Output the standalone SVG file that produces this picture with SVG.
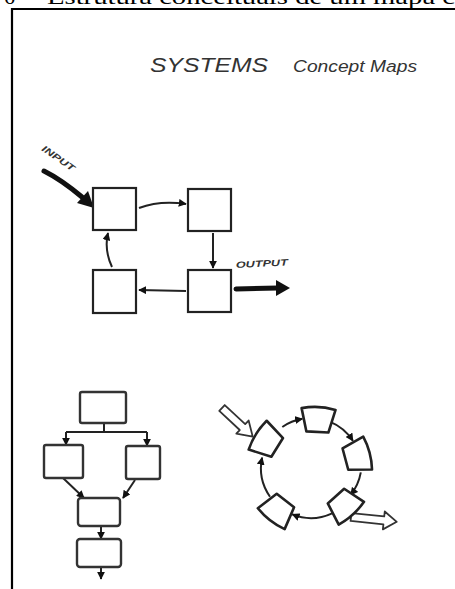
<svg xmlns="http://www.w3.org/2000/svg" width="455" height="589" viewBox="0 0 455 589">
<style>
.box{fill:#fff;stroke:#222;stroke-width:2.2}
.fbox{fill:#fff;stroke:#333;stroke-width:2.4}
.ln{fill:none;stroke:#222;stroke-width:2}
.thick{fill:none;stroke:#111;stroke-width:5;stroke-linecap:round}
.node{fill:#fff;stroke:#222;stroke-width:2.6;stroke-linejoin:round}
.hollow{fill:#fff;stroke:#333;stroke-width:1.8;stroke-linejoin:round}
.hand{font-family:"Liberation Sans",Arial,sans-serif;font-style:italic;fill:#333}
</style>
<defs>
<marker id="ah" viewBox="0 0 10 10" refX="9" refY="5" markerWidth="4" markerHeight="4" orient="auto" markerUnits="strokeWidth">
<path d="M0,0 L10,5 L0,10 Z" fill="#111"/>
</marker>
<path id="trap" d="M-17,-11 Q0,-15 17,-11 L11,12 L-11,12 Z"/>
</defs>
<rect width="455" height="589" fill="#fff"/>
<text x="4" y="4" font-family="Liberation Serif,serif" font-size="22" fill="#000">6</text>
<text x="47" y="4" font-family="Liberation Serif,serif" font-size="22" fill="#000" textLength="408" lengthAdjust="spacingAndGlyphs">Estrutura conceituais de um mapa c</text>
<path d="M12,589 L12,9 L455,9" fill="none" stroke="#000" stroke-width="2.2"/>

<g id="title">
<text class="hand" x="150" y="72" font-size="20" textLength="118" lengthAdjust="spacingAndGlyphs">SYSTEMS</text>
<text class="hand" x="293" y="72" font-size="16" textLength="124" lengthAdjust="spacingAndGlyphs">Concept Maps</text>
</g>

<g id="connectors">
<path class="thick" d="M44,171 C58,178 70,187 82,197"/>
<polygon points="94,208 77,203 88,191" fill="#111"/>
<path class="thick" d="M236,289 L278,288"/>
<polygon points="290,288 276,280 276,296" fill="#111"/>
<path class="ln" d="M139,208 Q160,200 186,204" marker-end="url(#ah)"/>
<path class="ln" d="M213,233 L213,268" marker-end="url(#ah)"/>
<path class="ln" d="M186,291 L139,290" marker-end="url(#ah)"/>
<path class="ln" d="M112,267 Q104,250 108,233" marker-end="url(#ah)"/>

<path class="ln" d="M104,423 L104,432 M66,432 L147,432"/>
<path class="ln" d="M66,432 L66,445" marker-end="url(#ah)"/>
<path class="ln" d="M147,432 L147,446" marker-end="url(#ah)"/>
<path class="ln" d="M63,478 L84,498" marker-end="url(#ah)"/>
<path class="ln" d="M135,480 L123,498" marker-end="url(#ah)"/>
<path class="ln" d="M101,526 L101,539" marker-end="url(#ah)"/>
<path class="ln" d="M101,567 L101,579" marker-end="url(#ah)"/>

<path class="ln" stroke-width="1.6" d="M282.3,427 A50,50 0 0 1 302.3,418.8" marker-end="url(#ah)"/>
<path class="ln" stroke-width="1.6" d="M329.7,421.6 A50,50 0 0 1 352.9,440.8" marker-end="url(#ah)"/>
<path class="ln" stroke-width="1.6" d="M360.8,472.4 A50,50 0 0 1 350.6,495" marker-end="url(#ah)"/>
<path class="ln" stroke-width="1.6" d="M332.1,513.3 A50,50 0 0 1 292.3,514.4" marker-end="url(#ah)"/>
<path class="ln" stroke-width="1.6" d="M270,496.7 A50,50 0 0 1 262.1,457.6" marker-end="url(#ah)"/>
</g>

<g id="input-label"><text class="hand" font-size="9" font-weight="bold" textLength="38" lengthAdjust="spacingAndGlyphs" transform="translate(41,150) rotate(35)">INPUT</text></g>
<g id="output-label"><text class="hand" font-size="9" font-weight="bold" x="236" y="268" textLength="52" lengthAdjust="spacingAndGlyphs" transform="rotate(-3 236 268)">OUTPUT</text></g>

<g id="loop-tl"><rect class="box" x="93" y="188" width="43" height="42"/></g>
<g id="loop-tr"><rect class="box" x="188" y="189" width="43" height="42"/></g>
<g id="loop-bl"><rect class="box" x="93" y="270" width="43" height="43"/></g>
<g id="loop-br"><rect class="box" x="188" y="270" width="43" height="42"/></g>

<g id="flow-top"><rect class="fbox" x="80" y="392" width="46" height="31" rx="2"/></g>
<g id="flow-left"><rect class="fbox" x="44" y="445" width="39" height="33" rx="2"/></g>
<g id="flow-right"><rect class="fbox" x="126" y="446" width="34" height="33" rx="2"/></g>
<g id="flow-mid"><rect class="fbox" x="78" y="498" width="42" height="28" rx="3"/></g>
<g id="flow-bottom"><rect class="fbox" x="77" y="539" width="44" height="28" rx="3"/></g>

<g id="cycle-input"><polygon class="hollow" points="0,-4 28,-4 28,-9 42,0 28,9 28,4 0,4" transform="translate(222,408) rotate(43)"/></g>
<g id="cycle-output"><polygon class="hollow" points="0,-4 33,-4 33,-9 46,0 33,9 33,4 0,4" transform="translate(351,517) rotate(6)"/></g>

<g id="cycle-top"><use href="#trap" class="node" transform="translate(318,420) rotate(3)"/></g>
<g id="cycle-ul"><use href="#trap" class="node" transform="translate(267,441) rotate(-58)"/></g>
<g id="cycle-r"><use href="#trap" class="node" transform="translate(357,456) rotate(75)"/></g>
<g id="cycle-lr"><use href="#trap" class="node" transform="translate(344,505) rotate(138)"/></g>
<g id="cycle-ll"><use href="#trap" class="node" transform="translate(278,510) rotate(218)"/></g>
</svg>
